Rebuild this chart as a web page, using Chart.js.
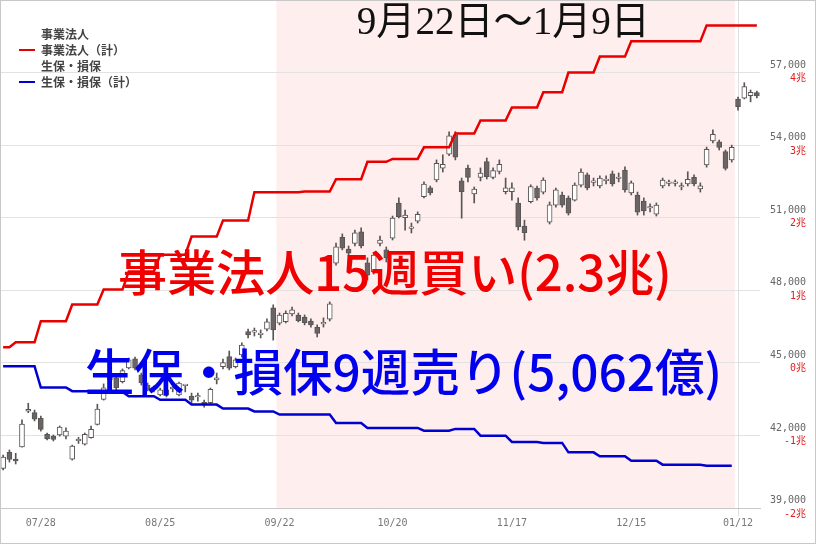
<!DOCTYPE html>
<html><head><meta charset="utf-8">
<script src="https://cdn.jsdelivr.net/npm/chart.js@4.4.1/dist/chart.umd.min.js"></script>
<style>html,body{margin:0;padding:0;background:#fff;}canvas{display:block;}</style>
</head><body>
<canvas id="c" width="816" height="544"></canvas>
<script>
// ---- data ----
const categories = [
'07/17','07/18','07/22','07/23','07/24','07/25','07/28','07/29','07/30','07/31','08/01',
'08/04','08/05','08/06','08/07','08/08','08/12','08/13','08/14','08/15',
'08/18','08/19','08/20','08/21','08/22','08/25','08/26','08/27','08/28','08/29',
'09/01','09/02','09/03','09/04','09/05','09/08','09/09','09/10','09/11','09/12',
'09/16','09/17','09/18','09/19','09/22','09/24','09/25','09/26',
'09/29','09/30','10/01','10/02','10/03','10/06','10/07','10/08','10/09','10/10',
'10/14','10/15','10/16','10/17','10/20','10/21','10/22','10/23','10/24',
'10/27','10/28','10/29','10/30','10/31','11/04','11/05','11/06','11/07',
'11/10','11/11','11/12','11/13','11/14','11/17','11/18','11/19','11/20','11/21',
'11/25','11/26','11/27','11/28','12/01','12/02','12/03','12/04','12/05',
'12/08','12/09','12/10','12/11','12/12','12/15','12/16','12/17','12/18','12/19',
'12/22','12/23','12/24','12/25','12/26','12/29','12/30',
'01/05','01/06','01/07','01/08','01/09','01/13','01/14','01/15','01/16'];

const opens  = [40640,41300,41020,41530,43000,42940,42710,42050,41970,42020,41970,41020,41780,41640,41910,42460,43490,44290,44380,44220,44790,45170,44500,44080,43920,43670,43880,43920,43670,44060,43630,43590,43370,43350,44290,44840,45260,44840,45330,46290,46270,46170,46390,47270,46640,46700,47020,46980,46890,46730,46470,46610,46810,49120,50190,49700,49940,50420,49140,48770,49940,49670,50150,51600,51000,50560,50860,51870,52240,52560,53050,53630,54420,52520,53050,51980,52670,53320,52670,52910,52080,52080,51600,50650,51660,52230,52060,50820,51520,51940,51810,51730,52350,52770,52460,52310,52530,52810,52620,52970,52020,51940,51690,51400,51150,52310,52420,52420,52270,52400,52670,52190,53180,54170,54140,53730,53390,55900,55940,56040,56170];
const highs  = [41190,41400,41260,42640,43330,43050,42800,42100,42020,42390,42310,41600,41920,42100,42390,43290,44130,44710,44460,44750,45200,45240,44580,44170,44040,43960,43960,44170,44210,44090,43750,43750,43460,43960,44580,45160,45490,45200,45830,46400,46440,46360,46820,47400,47060,47150,47310,47060,46980,46820,46570,46860,47520,49950,50330,49830,50490,50580,49340,49540,50240,49790,51070,51820,51320,50780,51240,52480,52310,53390,53600,54550,54560,52640,53180,52270,53060,53470,53060,53390,52640,52440,51820,50900,52360,52310,52650,51650,52230,52060,51900,52440,53020,52850,52640,52730,52730,52930,52850,53100,52520,52060,51820,51570,51610,52640,52560,52560,52440,52900,52770,52440,53920,54630,54210,53800,54000,55990,56580,56280,56240];
const lows   = [40570,40900,40820,41510,42940,42600,42180,41810,41770,41970,41860,40980,41670,41600,41890,42430,43460,44210,43880,44170,44750,44710,44080,43840,43800,43630,43590,43800,43630,43800,43340,43420,43170,43300,44130,44750,44710,44790,45240,46030,46110,46030,46320,45940,46570,46650,46940,46690,46570,46480,46070,46480,46730,49040,49670,49420,49830,49750,48420,48670,49830,49170,50080,50990,50490,50370,50780,51820,51940,52480,52890,53560,53390,50980,52480,51610,52520,52600,52600,52810,51980,51730,50490,50070,51610,51730,51980,50740,51440,51440,51110,51690,52270,52150,52310,52230,52400,52310,52480,52060,51940,51110,51110,51240,51070,52230,52310,52310,52150,52310,52310,52060,53090,54090,53800,52970,53300,55450,55910,55790,55950];
const closes = [41100,41010,40950,42470,43080,42670,42250,41860,41840,42340,42180,41560,41840,42050,42250,43090,43970,44580,43960,44680,45120,44780,44170,43920,43960,43880,43670,44000,44160,44090,43460,43620,43260,43910,44380,45010,44780,45120,45740,46150,46300,46200,46700,46360,46980,47050,47190,46740,46660,46570,46220,46660,47440,49800,49740,49530,50380,49830,48630,49460,50080,49340,50980,51040,51110,50590,51140,52390,52030,53250,53210,54380,53500,52080,52670,52180,52840,52700,52950,53210,52240,52240,50620,50380,52290,51820,52560,51530,52150,51520,51190,52350,52890,52230,52480,52640,52560,52400,52640,52150,52440,51230,51280,51440,51520,52560,52440,52440,52300,52590,52400,52320,53830,54450,53910,53040,53910,55590,56420,56180,56030];

// weekly cumulative net flow (兆円), one value per week starting at weekStarts
const weekStarts = ['07/17','07/22','07/28','08/04','08/12','08/18','08/25','09/01','09/08','09/16','09/22','09/29','10/06','10/14','10/20','10/27','11/04','11/10','11/17','11/25','12/01','12/08','12/15','12/22','12/29','01/05','01/13'];
const corpCumulative = [0.215,0.284,0.574,0.804,1.01,1.26,1.49,1.74,1.96,2.35,2.35,2.36,2.53,2.77,2.81,2.97,3.16,3.34,3.52,3.73,4.00,4.22,4.43,4.43,4.43,4.65,4.65];
const insCumulative  = [-0.047,-0.047,-0.34,-0.39,-0.40,-0.46,-0.51,-0.575,-0.63,-0.67,-0.713,-0.713,-0.83,-0.897,-0.897,-0.934,-0.91,-1.003,-1.09,-1.103,-1.233,-1.288,-1.348,-1.403,-1.403,-1.417,null];

const xTickLabels = ['07/28','08/25','09/22','10/20','11/17','12/15','01/12'];
const priceMin = 39000, priceMax = 60000, priceStep = 3000, zeroPrice = 45000;
const legendLabels = ['事業法人','事業法人（計）','生保・損保','生保・損保（計）'];
const shadeRange = ['09/22','01/09'];
const titleText = '9月22日～1月9日';
const corpText = '事業法人15週買い(2.3兆)';
const insText = '生保・損保9週売り(5,062億)';

// ---- derived ----
const dateKey = s => { const m = +s.slice(0,2), d = +s.slice(3); return (m < 7 ? m + 12 : m) * 100 + d; };
const weekStartIdx = weekStarts.map(d => categories.indexOf(d));
const weekOf = i => { let w = 0; weekStartIdx.forEach((s, k) => { if (i >= s) w = k; }); return w; };
const corpDaily = categories.map((_, i) => corpCumulative[weekOf(i)]);
const insDaily = categories.map((_, i) => insCumulative[weekOf(i)]);
const tickIdx = {};
xTickLabels.forEach(t => { const k = dateKey(t); const i = categories.findIndex(c => dateKey(c) >= k); if (i >= 0) tickIdx[i] = t; });
const bodies = categories.map((_, i) => [opens[i], closes[i]]);
const wicks = categories.map((_, i) => [lows[i], highs[i]]);
const up = categories.map((_, i) => closes[i] >= opens[i]);

const MONO = "'DejaVu Sans Mono', 'Noto Sans CJK JP', monospace";
const tmp = document.createElement('canvas').getContext('2d');
tmp.font = '10px ' + MONO;
const wPrice = tmp.measureText('57,000').width;
const wCho = tmp.measureText('-2兆').width;
const labelRight = 46; // from plot edge to label right edge

const bgPlugin = {
  id: 'bg',
  beforeDraw(chart) {
    const {ctx, chartArea: a, scales: {x}} = chart;
    ctx.save();
    ctx.fillStyle = '#fff';
    ctx.fillRect(0, 0, chart.width, chart.height);
    const half = (x.getPixelForValue(1) - x.getPixelForValue(0)) / 2;
    const x1 = x.getPixelForValue(categories.indexOf(shadeRange[0])) - half;
    const x2 = x.getPixelForValue(categories.indexOf(shadeRange[1])) + half;
    ctx.fillStyle = 'rgba(255,0,0,0.065)';
    ctx.fillRect(x1, a.top, x2 - x1, a.bottom - a.top);
    ctx.restore();
  },
  afterLayout(chart) {
    ['y', 'y2'].forEach(id => {
      const s = chart.scales[id];
      s.left = chart.chartArea.right; s.right = chart.width; s.width = s.right - s.left;
    });
    const lg = chart.legend;
    if (lg) { const dx = chart.chartArea.left + 15 - lg.left; lg.left += dx; lg.right += dx; const dy = 24 - lg.top; lg.top += dy; lg.bottom += dy; }
  },
  afterDraw(chart) {
    const {ctx, scales: {x, y}} = chart;
    const put = (text, i1, i2, price, color, family, weight) => {
      const x1 = x.getPixelForValue(i1), x2 = x.getPixelForValue(i2);
      ctx.font = `${weight} 100px ${family}`;
      const w = ctx.measureText(text).width;
      const size = 100 * (x2 - x1) / w;
      ctx.font = `${weight} ${size}px ${family}`;
      ctx.fillStyle = color; ctx.textAlign = 'left'; ctx.textBaseline = 'middle';
      ctx.fillText(text, x1, y.getPixelForValue(price));
    };
    ctx.save();
    put(titleText, 56.3, 103.0, 59020, '#111', "'Liberation Serif', 'Noto Sans CJK JP', serif", 'normal');
    put(corpText, 18.3, 106.5, 48760, '#f00000', "'Noto Sans CJK JP', sans-serif", '500');
    put(insText, 13.0, 114.5, 44620, '#0000ee', "'Noto Sans CJK JP', sans-serif", '500');
    ctx.strokeStyle = '#c8c8c8'; ctx.lineWidth = 1;
    ctx.strokeRect(0.5, 0.5, chart.width - 1, chart.height - 1);
    ctx.restore();
  }
};

const zeroW = sc => { sc.width = 0; sc.paddingTop = 0; sc.paddingBottom = 0; };

new Chart(document.getElementById('c'), {
  type: 'bar',
  data: {
    labels: categories,
    datasets: [
      { type: 'line', label: legendLabels[1], data: corpDaily, yAxisID: 'y2', borderColor: '#e80000', borderWidth: 2.5, pointRadius: 0, tension: 0, order: 0 },
      { type: 'line', label: legendLabels[3], data: insDaily, yAxisID: 'y2', borderColor: '#0000d0', borderWidth: 2.5, pointRadius: 0, tension: 0, order: 0 },
      { label: 'body', data: bodies, yAxisID: 'y', grouped: false, barThickness: 5, minBarLength: 1.5,
        backgroundColor: up.map(u => u ? '#ffffff' : '#6a6464'), borderColor: '#5a5555', borderWidth: 1, borderSkipped: false, order: 1 },
      { label: 'wick', data: wicks, yAxisID: 'y', grouped: false, barThickness: 1,
        backgroundColor: '#5a5555', borderWidth: 0, order: 2 }
    ]
  },
  options: {
    responsive: false, animation: false, devicePixelRatio: 1,
    layout: { padding: { left: 0, right: 56, top: 0, bottom: 14 } },
    plugins: {
      tooltip: { enabled: false },
      legend: {
        position: 'chartArea', align: 'start',
        labels: {
          boxWidth: 16, boxHeight: 2, padding: 4, color: '#444',
          font: { family: "'Noto Sans CJK JP', sans-serif", size: 12, weight: 'bold' },
          generateLabels: () => legendLabels.map((t, i) => ({
            text: t, fillStyle: i === 1 ? '#e80000' : i === 3 ? '#0000d0' : 'rgba(0,0,0,0)',
            strokeStyle: 'rgba(0,0,0,0)', lineWidth: 0, hidden: false, fontColor: '#444'
          }))
        }
      }
    },
    scales: {
      x: {
        offset: true,
        grid: { offset: false, drawTicks: true, tickLength: 8,
          color: c => (tickIdx[c.index] ? '#e2dede' : 'rgba(0,0,0,0)') },
        border: { color: '#c8c8c8' },
        ticks: { autoSkip: false, maxRotation: 0, padding: 1, color: '#777',
          font: { family: MONO, size: 10 },
          callback: (v, i) => tickIdx[i] || null },
        afterFit: sc => { sc.paddingLeft = 0; sc.paddingRight = 0; }
      },
      y: {
        position: 'right', min: priceMin, max: priceMax,
        grid: { color: '#e2e2e2', drawTicks: false },
        border: { display: false },
        ticks: { stepSize: priceStep, crossAlign: 'near', padding: labelRight - wPrice, labelOffset: -7.5,
          color: '#666', font: { family: MONO, size: 10 },
          callback: v => v >= priceMax ? null : v.toLocaleString('en-US') },
        afterFit: zeroW
      },
      y2: {
        position: 'right', min: (priceMin - zeroPrice) / priceStep, max: (priceMax - zeroPrice) / priceStep,
        grid: { display: false, drawTicks: false },
        border: { display: false },
        ticks: { stepSize: 1, crossAlign: 'near', padding: labelRight - wCho, labelOffset: 6,
          color: '#e02020', font: { family: MONO, size: 10 },
          callback: v => v >= (priceMax - zeroPrice) / priceStep ? null : (v < 0 ? '' : ' ') + v + '兆' },
        afterFit: zeroW
      }
    }
  },
  plugins: [bgPlugin]
});
</script>
</body></html>
